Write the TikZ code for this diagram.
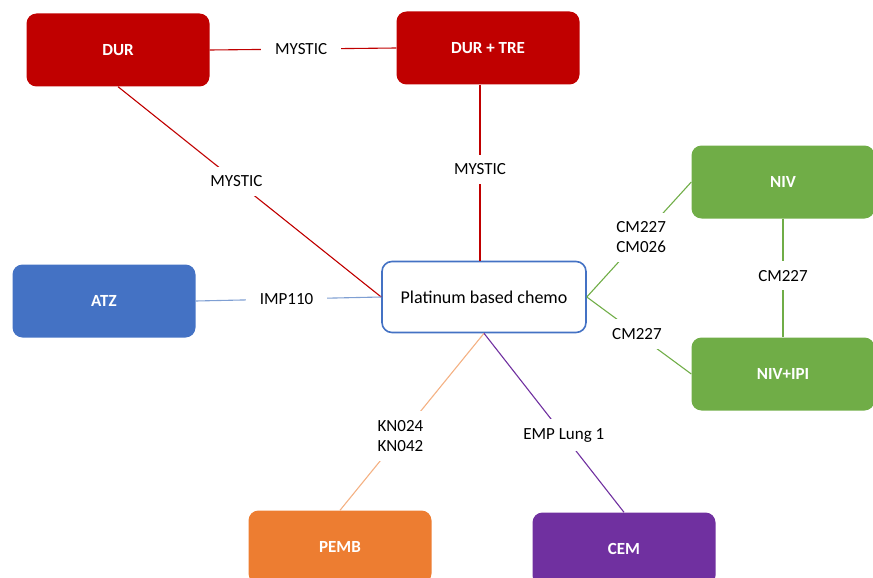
\documentclass[tikz,border=0pt]{standalone}
\usepackage{fontspec}
\setmainfont{Carlito}
\usepackage{tikz}

\definecolor{durred}{HTML}{C00000}
\definecolor{atzblue}{HTML}{4472C4}
\definecolor{atzline}{HTML}{7F9FD3}
\definecolor{nivgreen}{HTML}{70AD47}
\definecolor{pemorange}{HTML}{ED7D31}
\definecolor{pemline}{HTML}{F4B183}
\definecolor{cempurple}{HTML}{7030A0}

\begin{document}
\begin{tikzpicture}[x=1pt, y=-1pt,
  armbox/.style={rounded corners=10pt, minimum width=183pt, minimum height=73pt,
    text=white, font=\fontsize{17}{20}\selectfont\bfseries},
  trial/.style={fill=white, text=black, inner xsep=14pt, inner ysep=9pt, align=center,
    font=\fontsize{17}{20}\selectfont},
  link/.style={line width=1.1pt}]

  \useasboundingbox (0,0) rectangle (873,578);

  % Chemo backbone in the middle
  \node[draw=atzblue, line width=1.6pt, fill=white, rounded corners=10pt,
    minimum width=204pt, minimum height=71pt,
    font=\fontsize{18}{21}\selectfont] (plat) at (484,297) {Platinum based chemo};

  % Red arms (top)
  \node[armbox, fill=durred] (dur)    at (118,50) {DUR};
  \node[armbox, fill=durred] (durtre) at (488,48) {DUR + TRE};

  % Blue arm (left)
  \node[armbox, fill=atzblue] (atz) at (104,301) {ATZ};

  % Green arms (right)
  \node[armbox, fill=nivgreen] (niv)    at (783,182) {NIV};
  \node[armbox, fill=nivgreen] (nivipi) at (783,374) {NIV+IPI};

  % Bottom arms
  \node[armbox, fill=pemorange] (pemb) at (340,547) {PEMB};
  \node[armbox, fill=cempurple] (cem)  at (624,549) {CEM};

  % Red trial links
  \draw[link, durred] (dur.east) -- node[trial, pos=0.49] {MYSTIC} (durtre.west);
  \draw[link, durred] (dur.south) -- node[trial, pos=0.45] {MYSTIC} (plat.west);
  \draw[link, durred] ([xshift=-8pt]durtre.south) -- node[trial, pos=0.48] {MYSTIC} ([xshift=-4pt]plat.north);

  % Blue trial link
  \draw[link, atzline] (atz.east) -- node[trial, pos=0.49] {IMP110} (plat.west);

  % Green trial links
  \draw[link, nivgreen] (plat.east) -- node[trial, pos=0.52] {CM227\\CM026} (niv.west);
  \draw[link, nivgreen] (plat.east) -- node[trial, pos=0.48] {CM227} (nivipi.west);
  \draw[link, nivgreen] (niv.south) -- node[trial, pos=0.48] {CM227} (nivipi.north);

  % Bottom trial links
  \draw[link, pemline] (plat.south) -- node[trial, pos=0.58] {KN024\\KN042} (pemb.north);
  \draw[link, cempurple] (plat.south) -- node[trial, pos=0.57] {EMP Lung 1} (cem.north);

\end{tikzpicture}
\end{document}
